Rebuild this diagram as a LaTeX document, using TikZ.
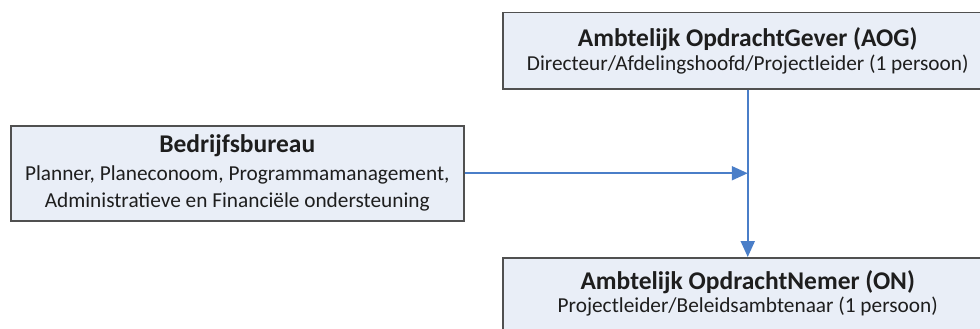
\documentclass[tikz,border=0pt]{standalone}
\usepackage{fontspec}
\setmainfont{Carlito}
\usetikzlibrary{arrows.meta,shadows}
\definecolor{boxfill}{HTML}{E9EEF7}
\definecolor{boxdraw}{HTML}{505050}
\definecolor{linkblue}{HTML}{4A7EC8}
\definecolor{txt}{HTML}{1E1E1E}
\newcommand{\ttlfont}{\fontsize{25.5}{24}\selectfont\bfseries}
\newcommand{\subfont}{\fontsize{21.3}{24}\selectfont}
\tikzset{
  orgbox/.style={draw=boxdraw, fill=boxfill, line width=1.5pt, align=center,
    text=txt, inner sep=0pt,
    drop shadow={shadow xshift=1.5pt, shadow yshift=-1.5pt, fill=black!45, opacity=1}},
  link/.style={draw=linkblue, line width=2pt, -{Triangle[length=16pt,width=14pt]}}
}
\begin{document}
\begin{tikzpicture}[x=1pt,y=-1pt]
\useasboundingbox (0,0) rectangle (980,329);
\clip (0,0) rectangle (980,329);
\fill[white] (0,0) rectangle (980,329);
\node[orgbox, anchor=north west, minimum width=490pt, minimum height=76pt,
  font=\fontsize{21.3}{24}\selectfont] (aog) at (502,12)
  {{\ttlfont Ambtelijk OpdrachtGever (AOG)}\\
   Directeur/Afdelingshoofd/Projectleider (1 persoon)};
\node[orgbox, anchor=north west, minimum width=453pt, minimum height=95pt,
  font=\fontsize{21.3}{27.5}\selectfont] (bb) at (10,125)
  {{\ttlfont Bedrijfsbureau}\\
   Planner, Planeconoom, Programmamanagement,\\
   Administratieve en Financiële ondersteuning};
\node[orgbox, anchor=north west, minimum width=490pt, minimum height=72pt,
  font=\fontsize{21.3}{23}\selectfont] (on) at (502,257)
  {{\ttlfont Ambtelijk OpdrachtNemer (ON)}\\
   Projectleider/Beleidsambtenaar (1 persoon)};
\coordinate (join) at (aog.south |- bb.east);
\draw[link] (aog.south) -- (on.north);
\draw[link] (bb.east) -- (join);
\end{tikzpicture}
\end{document}
